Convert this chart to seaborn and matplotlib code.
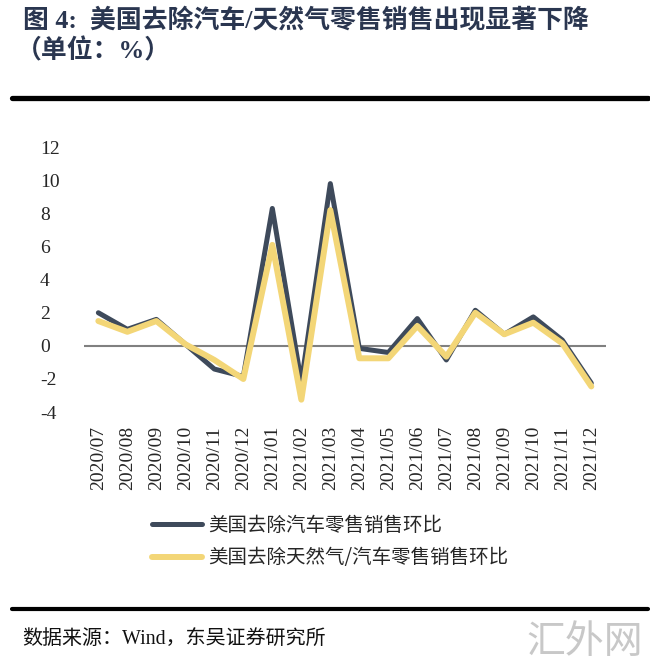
import numpy as np
import pandas as pd
import matplotlib.pyplot as plt
import seaborn as sns

months = ['2020/07', '2020/08', '2020/09', '2020/10', '2020/11', '2020/12',
          '2021/01', '2021/02', '2021/03', '2021/04', '2021/05', '2021/06',
          '2021/07', '2021/08', '2021/09', '2021/10', '2021/11', '2021/12']
ex_auto = [2.0, 1.0, 1.6, 0.1, -1.4, -1.85, 8.3, -2.2, 9.8, -0.15, -0.4, 1.65,
           -0.85, 2.15, 0.7, 1.75, 0.35, -2.25]
ex_auto_gas = [1.5, 0.85, 1.5, 0.1, -0.85, -2.0, 6.1, -3.25, 8.2, -0.75, -0.75, 1.2,
               -0.65, 2.0, 0.7, 1.4, 0.15, -2.45]
name_a = '美国去除汽车零售销售环比'
name_b = '美国去除天然气/汽车零售销售环比'

df = pd.DataFrame({'month': months * 2,
                   'value': ex_auto + ex_auto_gas,
                   'series': [name_a] * len(months) + [name_b] * len(months)})

sns.set_theme(style='white')
plt.rcParams['font.family'] = ['Liberation Serif', 'Noto Sans CJK SC']
plt.rcParams['axes.unicode_minus'] = False

fig = plt.figure(figsize=(6.5, 6.69), dpi=100)
ax = fig.add_axes([0.129, 0.384, 0.803, 0.396])

ax.axhline(0, color='#808080', lw=1.5, zorder=1)
sns.lineplot(data=df, x='month', y='value', hue='series', sort=False,
             palette={name_a: '#3E4A5B', name_b: '#F3D677'}, ax=ax,
             legend=False, zorder=3)
lines = ax.get_lines()
lines[1].set_linewidth(3.6)
lines[2].set_linewidth(4.3)

ax.set_xlim(-0.5, len(months) - 0.5)
ax.set_ylim(-4, 12)
ax.set_yticks(range(-4, 13, 2))
ax.set_xlabel('')
ax.set_ylabel('')
for s in ax.spines.values():
    s.set_visible(False)
ax.tick_params(axis='x', labelrotation=90, labelsize=14, pad=10, length=0)
ax.tick_params(axis='y', labelsize=14, length=0)
for t in ax.get_yticklabels():
    t.set_horizontalalignment('left')
    t.set_x(-0.075)

ax.legend(handles=[lines[1], lines[2]], labels=[name_a, name_b],
          loc='upper left', bbox_to_anchor=(142 / 650, 1 - 505 / 669),
          bbox_transform=fig.transFigure, frameon=False, borderpad=0,
          handlelength=2.6, handletextpad=0.3, labelspacing=0.6,
          prop={'family': 'Noto Sans CJK SC', 'size': 14})

title_color = '#2A3650'
fig.text(0.035, 1 - 20 / 669, '图 4:  美国去除汽车/天然气零售销售出现显著下降',
         fontsize=18.6, fontweight='bold', color=title_color, va='center',
         family=['Liberation Serif', 'Noto Sans CJK SC'])
fig.text(0.025, 1 - 51 / 669, '（单位：%）', fontsize=18.6, fontweight='bold',
         color=title_color, va='center',
         family=['Liberation Serif', 'Noto Sans CJK SC'])

fig.add_artist(plt.Line2D([12 / 650, 648 / 650], [1 - 97.5 / 669] * 2,
                          color='black', lw=3.8, transform=fig.transFigure))
fig.add_artist(plt.Line2D([12 / 650, 648 / 650], [1 - 608.5 / 669] * 2,
                          color='black', lw=3.0, transform=fig.transFigure))

fig.text(0.034, 1 - 640 / 669, '数据来源：Wind，东吴证券研究所', fontsize=14.4,
         color='#111111', va='center',
         family=['Liberation Serif', 'Noto Sans CJK SC'])
fig.text(0.99, 1 - 642 / 669, '汇外网', fontsize=28, color='#C8C8C8',
         ha='right', va='center', family=['Noto Sans CJK SC'])

fig.savefig('out.png', dpi=100)
